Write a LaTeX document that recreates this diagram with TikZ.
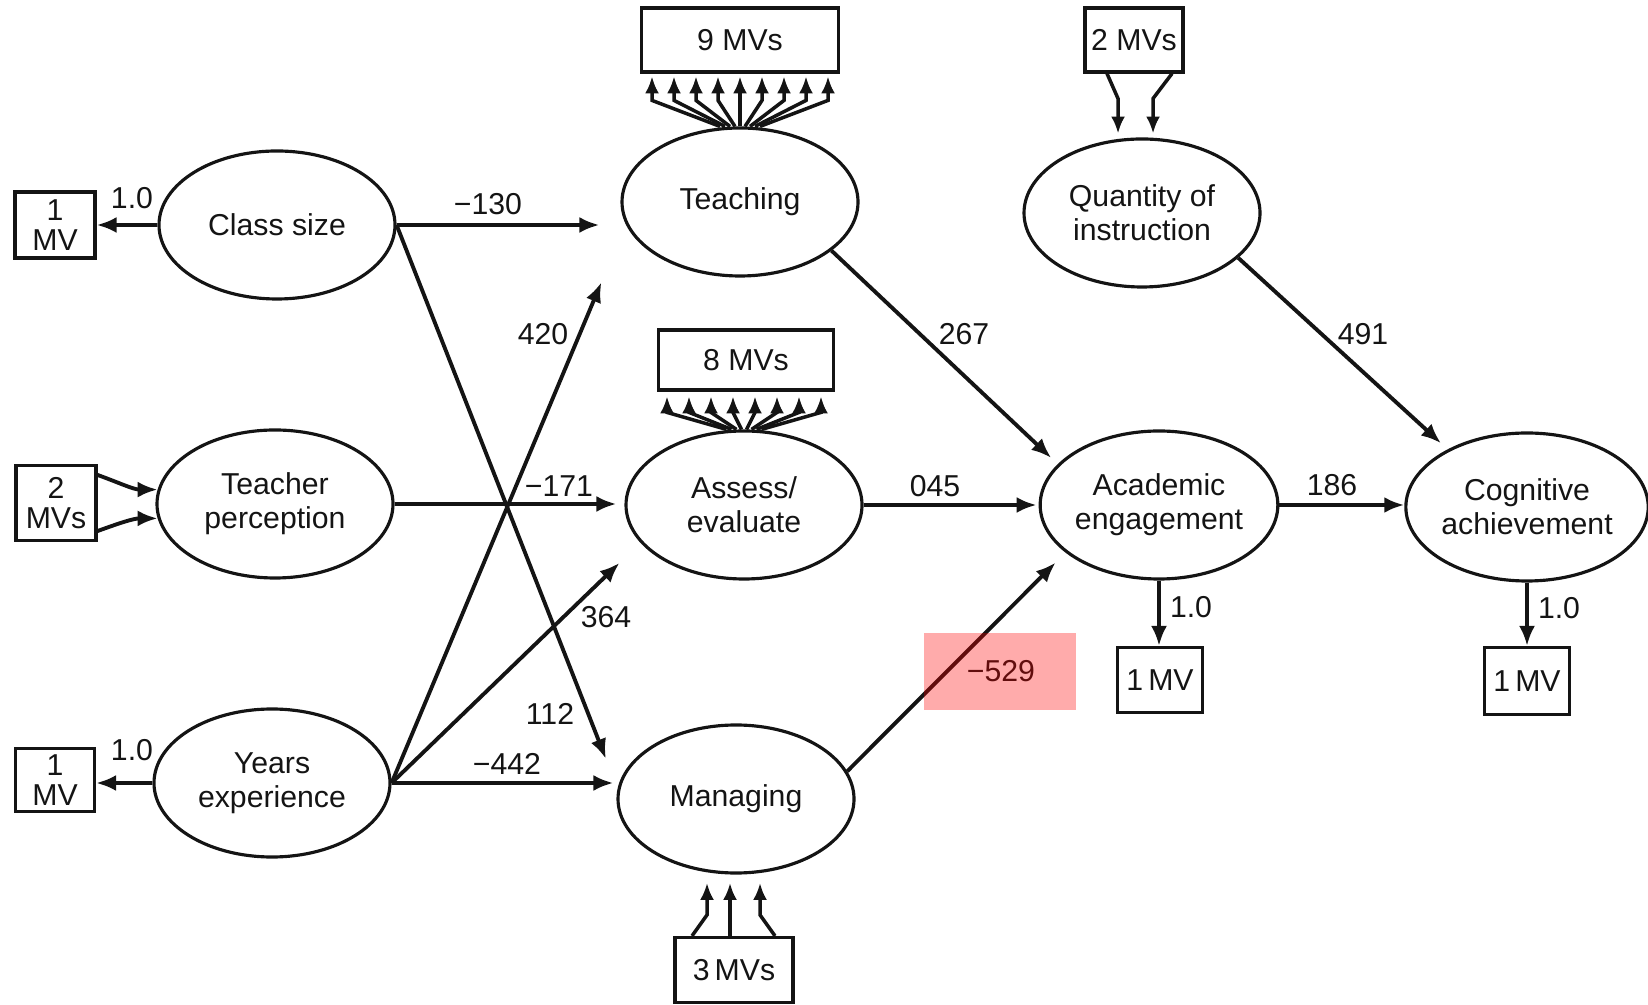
\documentclass[tikz,border=0pt]{standalone}
\usepackage{fontspec}
\setmainfont{Liberation Sans}
\usepackage{tikz}
\usetikzlibrary{arrows.meta,shapes.geometric}
\definecolor{ink}{HTML}{141414}
\newcommand{\dgfont}{\fontsize{8.6}{9.6}\selectfont}
\newcommand{\boxfont}{\fontsize{8.6}{8.6}\selectfont}

\begin{document}
\begin{tikzpicture}[x=0.1mm,y=-0.1mm,
  every node/.style={font=\dgfont,text=ink},
  latent/.style={ellipse,draw=ink,line width=0.9pt,minimum width=23.6mm,minimum height=14.8mm,inner sep=0pt,align=center},
  mvbox/.style={draw=ink,line width=0.9pt,inner sep=0pt,align=center,font=\boxfont},
  link/.style={draw=ink,line width=1.1pt,-{Latex[length=2mm,width=1.6mm]}},
  ind/.style={draw=ink,line width=1pt,-{Latex[length=1.7mm,width=1.4mm]}}]
\useasboundingbox (0,0) rectangle (1648,1005);

\node[latent] (clssize) at (277,225) {Class size};
\node[latent] (tchperc) at (275,504) {Teacher\\perception};
\node[latent] (yrsexp) at (272,783) {Years\\experience};
\node[latent] (teach) at (740,202) {Teaching};
\node[latent] (assess) at (744,505) {Assess/\\evaluate};
\node[latent] (manage) at (736,799) {Managing};
\node[latent] (quant) at (1142,213) {Quantity of\\instruction};
\node[latent] (engage) at (1159,505) {Academic\\engagement};
\node[latent] (cognit) at (1527,507) {Cognitive\\achievement};

\node[mvbox,minimum width=8mm,minimum height=6.6mm] (clsmv) at (55,225) {1\\MV};
\node[mvbox,minimum width=8mm,minimum height=7.5mm] (tchmv) at (56,503) {2\\MVs};
\node[mvbox,minimum width=7.9mm,minimum height=6.3mm] (yrsmv) at (55,780) {1\\MV};
\node[mvbox,minimum width=19.7mm,minimum height=6.4mm] (teachmv) at (740,40) {9 MVs};
\node[mvbox,minimum width=17.5mm,minimum height=6mm] (assessmv) at (746,360) {8 MVs};
\node[mvbox,minimum width=9.8mm,minimum height=6.4mm] (quantmv) at (1134,40) {2 MVs};
\node[mvbox,minimum width=11.8mm,minimum height=6.5mm] (managemv) at (734,970) {3\,MVs};
\node[mvbox,minimum width=8.5mm,minimum height=6.5mm] (engagemv) at (1160,680) {1\,MV};
\node[mvbox,minimum width=8.5mm,minimum height=6.7mm] (cognitmv) at (1527,681) {1\,MV};

\draw[link] (clssize.west) -- (clsmv.east);
\draw[link] (yrsexp.west) -- (yrsexp.west -| yrsmv.east);
\draw[link] (tchmv.34) to[out=-20,in=180] (tchperc.173);
\draw[link] (tchmv.-34) to[out=20,in=180] (tchperc.187);

\draw[link,shorten >=2.1mm] (clssize.east) -- (clssize.east -| teach.west);
\draw[link,shorten >=3.2mm] (clssize.east) -- (manage.175);
\draw[link,shorten >=0.8mm] (tchperc.east) -- (tchperc.east -| assess.west);
\draw[link,shorten >=6.3mm] (yrsexp.east) -- (teach.191);
\draw[link,shorten >=2.9mm] (yrsexp.east) -- (assess.200);
\draw[link,shorten >=0.3mm] (yrsexp.east) -- (yrsexp.east -| manage.west);

\draw[link,shorten >=0.9mm] (teach.-28) -- (engage.158);
\draw[link,shorten >=0.2mm] (assess.east) -- (engage.west);
\draw[link,shorten >=1.4mm] (manage.14) -- (engage.207);
\draw[link,shorten >=0.9mm] (quant.-25) -- (cognit.144);
\draw[link] (engage.east) -- (engage.east -| cognit.west);
\draw[link] (engage.south) -- (engage.south |- engagemv.north);
\draw[link] (cognit.south) -- (cognitmv.north);

\foreach \k in {-4,...,4}
  \draw[ind] ([xshift=\k*0.5mm]teach.north) -- ++(\k*17,-26) -- ++(0,-24);
\foreach \k in {-3.5,-2.5,...,3.5}
  \draw[ind] ([xshift=\k*0.5mm]assess.north) -- ++(\k*17,-17) -- ++(0,-16);
\draw[ind] ([xshift=-2.7mm]quantmv.south) -- ++(11,25) -- ++(0,35);
\draw[ind] ([xshift=3.8mm]quantmv.south) -- ++(-19,25) -- ++(0,35);
\draw[ind] ([xshift=-4.2mm]managemv.north) -- ++(15,-21) -- ++(0,-32);
\draw[ind] ([xshift=-0.4mm]managemv.north) -- ++(0,-53);
\draw[ind] ([xshift=4.1mm]managemv.north) -- ++(-15,-21) -- ++(0,-32);

\node (ld1) at (132,198) {1.0};
\node (ld2) at (132,750) {1.0};
\node (ld3) at (1191,607) {1.0};
\node (ld4) at (1559,608) {1.0};
\node (w130) at (488,204) {−130};
\node (w420) at (543,334) {420};
\node (w171) at (559,486) {−171};
\node (w364) at (606,617) {364};
\node (w112) at (550,714) {112};
\node (w442) at (507,764) {−442};
\node (w267) at (964,334) {267};
\node (w045) at (935,486) {045};
\node (w529) at (1001,671) {−529};
\node (w491) at (1363,334) {491};
\node (w186) at (1332,485) {186};

\fill[red,fill opacity=0.33] (924,633) rectangle (1076,710);
\end{tikzpicture}
\end{document}
